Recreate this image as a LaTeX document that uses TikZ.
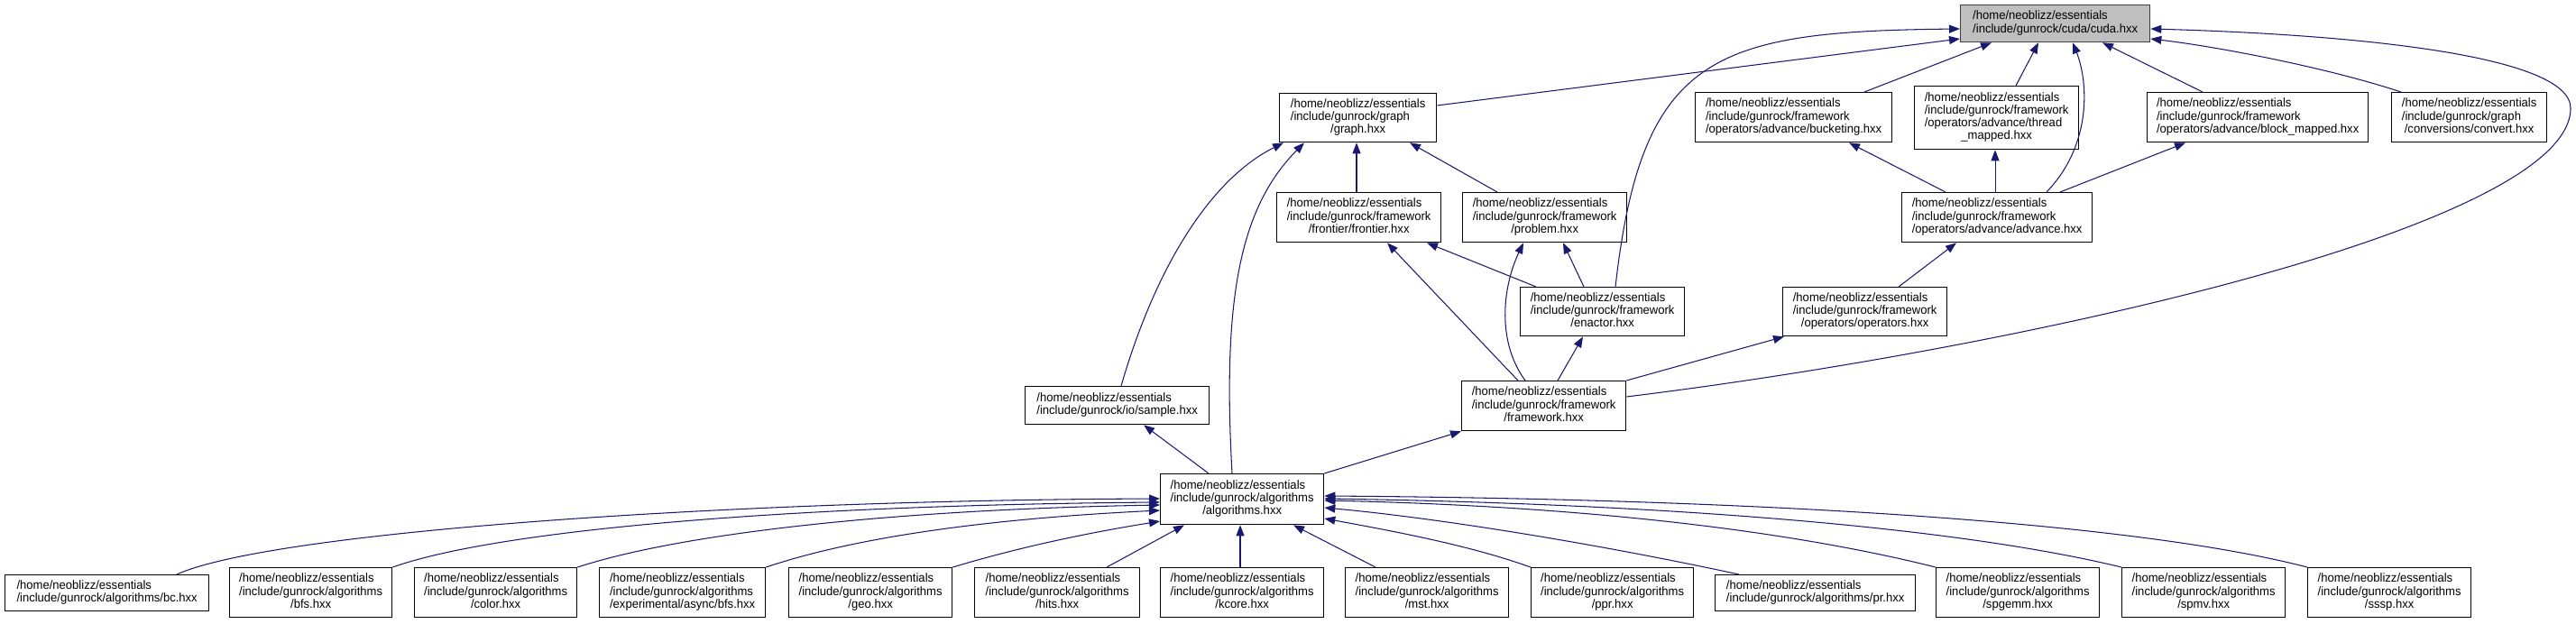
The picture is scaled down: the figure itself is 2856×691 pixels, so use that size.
\documentclass[tikz,border=0pt]{standalone}
\usepackage{fontspec}
\setmainfont[FakeStretch=0.96]{Liberation Sans}
\usetikzlibrary{arrows.meta}
\definecolor{edgeblue}{HTML}{191970}
\newcommand{\lbltwo}[2]{\begin{tabular}{@{}l@{}}#1\\\multicolumn{1}{@{}c@{}}{#2}\end{tabular}}
\newcommand{\lblthree}[3]{\begin{tabular}{@{}l@{}}#1\\#2\\\multicolumn{1}{@{}c@{}}{#3}\end{tabular}}
\newcommand{\lblfour}[4]{\begin{tabular}{@{}l@{}}#1\\#2\\#3\\\multicolumn{1}{@{}c@{}}{#4}\end{tabular}}
\newcommand{\hm}{/home/neoblizz/essentials}
\newcommand{\ifw}{/include/gunrock/framework}
\newcommand{\ial}{/include/gunrock/algorithms}
\begin{document}
\begin{tikzpicture}[x=1pt,y=-1pt,
  box/.style={draw=black, line width=1.3pt, fill=white, anchor=north west, inner sep=0pt,
    font=\fontsize{13.6}{14.3}\selectfont},
  rootbox/.style={box, fill=black!25, draw=black!75},
  edge/.style={draw=edgeblue, line width=1.05pt, -{Triangle[length=12pt,width=9pt]}}]
\useasboundingbox (0,0) rectangle (2856,691);
% top row
\node[rootbox, minimum width=210pt, minimum height=41pt] (cuda) at (2173,5) {\lbltwo{\hm}{/include/gunrock/cuda/cuda.hxx}};
\node[box, minimum width=174pt, minimum height=54pt] (graph) at (1418,103) {\lblthree{\hm}{/include/gunrock/graph}{/graph.hxx}};
\node[box, minimum width=218pt, minimum height=55pt] (bucket) at (1879,102) {\lblthree{\hm}{\ifw}{/operators/advance/bucketing.hxx}};
\node[box, minimum width=182pt, minimum height=70pt] (thread) at (2122,95) {\lblfour{\hm}{\ifw}{/operators/advance/thread}{\_mapped.hxx}};
\node[box, minimum width=245pt, minimum height=55pt] (block) at (2380,102) {\lblthree{\hm}{\ifw}{/operators/advance/block\_mapped.hxx}};
\node[box, minimum width=172pt, minimum height=55pt] (convert) at (2651,102) {\lblthree{\hm}{/include/gunrock/graph}{/conversions/convert.hxx}};
% middle rows
\node[box, minimum width=182pt, minimum height=55pt] (frontier) at (1415,213) {\lblthree{\hm}{\ifw}{/frontier/frontier.hxx}};
\node[box, minimum width=182pt, minimum height=55pt] (problem) at (1621,213) {\lblthree{\hm}{\ifw}{/problem.hxx}};
\node[box, minimum width=211pt, minimum height=55pt] (advance) at (2108,213) {\lblthree{\hm}{\ifw}{/operators/advance/advance.hxx}};
\node[box, minimum width=182pt, minimum height=54pt] (enactor) at (1685,318) {\lblthree{\hm}{\ifw}{/enactor.hxx}};
\node[box, minimum width=182pt, minimum height=54pt] (operators) at (1976,318) {\lblthree{\hm}{\ifw}{/operators/operators.hxx}};
\node[box, minimum width=182pt, minimum height=55pt] (framework) at (1620,422) {\lblthree{\hm}{\ifw}{/framework.hxx}};
\node[box, minimum width=204pt, minimum height=42pt] (sample) at (1136,428) {\lbltwo{\hm}{/include/gunrock/io/sample.hxx}};
\node[box, minimum width=181pt, minimum height=56pt] (algorithms) at (1286,525) {\lblthree{\hm}{\ial}{/algorithms.hxx}};
% bottom row
\node[box, minimum width=226pt, minimum height=40pt] (bc) at (5,637) {\lbltwo{\hm}{/include/gunrock/algorithms/bc.hxx}};
\node[box, minimum width=180pt, minimum height=55pt] (bfs) at (254,629) {\lblthree{\hm}{\ial}{/bfs.hxx}};
\node[box, minimum width=180pt, minimum height=55pt] (color) at (459,629) {\lblthree{\hm}{\ial}{/color.hxx}};
\node[box, minimum width=184pt, minimum height=55pt] (async) at (664,629) {\lblthree{\hm}{\ial}{/experimental/async/bfs.hxx}};
\node[box, minimum width=181pt, minimum height=55pt] (geo) at (874,629) {\lblthree{\hm}{\ial}{/geo.hxx}};
\node[box, minimum width=183pt, minimum height=55pt] (hits) at (1080,629) {\lblthree{\hm}{\ial}{/hits.hxx}};
\node[box, minimum width=181pt, minimum height=55pt] (kcore) at (1286,629) {\lblthree{\hm}{\ial}{/kcore.hxx}};
\node[box, minimum width=181pt, minimum height=55pt] (mst) at (1491,629) {\lblthree{\hm}{\ial}{/mst.hxx}};
\node[box, minimum width=180pt, minimum height=55pt] (ppr) at (1697,629) {\lblthree{\hm}{\ial}{/ppr.hxx}};
\node[box, minimum width=222pt, minimum height=40pt] (pr) at (1901,637) {\lbltwo{\hm}{/include/gunrock/algorithms/pr.hxx}};
\node[box, minimum width=181pt, minimum height=55pt] (spgemm) at (2146,629) {\lblthree{\hm}{\ial}{/spgemm.hxx}};
\node[box, minimum width=181pt, minimum height=55pt] (spmv) at (2352,629) {\lblthree{\hm}{\ial}{/spmv.hxx}};
\node[box, minimum width=181pt, minimum height=55pt] (sssp) at (2558,629) {\lblthree{\hm}{\ial}{/sssp.hxx}};
% edges into cuda
\draw[edge] ([yshift=-14pt]graph.north east) -- ([yshift=-38pt]cuda.north west);
\draw[edge] ([xshift=106pt]enactor.north west) .. controls (1820,60) and (1900,35) .. ([yshift=-27pt]cuda.north west);
\draw[edge] ([xshift=188pt]bucket.north west) -- ([xshift=35pt]cuda.south west);
\draw[edge] ([xshift=113pt]thread.north west) -- ([xshift=87pt]cuda.south west);
\draw[edge] ([xshift=161pt]advance.north west) .. controls (2320,160) and (2315,90) .. ([xshift=125pt]cuda.south west);
\draw[edge] ([xshift=62pt]block.north west) -- ([xshift=158pt]cuda.south west);
\draw[edge] ([xshift=11pt]convert.north west) .. controls (2580,75) and (2460,52) .. ([yshift=-38pt]cuda.north east);
\draw[edge] ([yshift=-18pt]framework.north east) .. controls (2250,385) and (2850,250) .. (2850,120)
   .. controls (2850,60) and (2600,38) .. ([yshift=-27pt]cuda.north east);
% edges into graph
\draw[edge] ([xshift=89pt]frontier.north west) -- ([xshift=86pt]graph.south west);
\draw[edge] ([xshift=39pt]problem.north west) -- ([xshift=145pt]graph.south west);
\draw[edge] ([xshift=107pt]sample.north west) .. controls (1280,300) and (1340,200) .. ([xshift=5pt]graph.south west);
\draw[edge] ([xshift=80pt]algorithms.north west) .. controls (1355,330) and (1375,230) .. ([xshift=28pt]graph.south west);
% frontier / problem / enactor
\draw[edge] ([xshift=18pt]enactor.north west) -- ([xshift=167pt]frontier.south west);
\draw[edge] ([xshift=63pt]framework.north west) -- ([xshift=123pt]frontier.south west);
\draw[edge] ([xshift=71pt]enactor.north west) -- ([xshift=112pt]problem.south west);
\draw[edge] ([xshift=71pt]framework.north west) .. controls (1660,380) and (1665,320) .. ([xshift=68pt]problem.south west);
\draw[edge] ([xshift=107pt]framework.north west) -- ([xshift=70pt]enactor.south west);
% advance
\draw[edge] ([xshift=49pt]advance.north west) -- ([xshift=171pt]bucket.south west);
\draw[edge] ([xshift=104pt]advance.north west) -- ([xshift=90pt]thread.south west);
\draw[edge] ([xshift=176pt]advance.north west) -- ([xshift=43pt]block.south west);
\draw[edge] ([xshift=129pt]operators.north west) -- ([xshift=61pt]advance.south west);
\draw[edge] (framework.north east) -- ([xshift=2pt]operators.south west);
% algorithms
\draw[edge] (algorithms.north east) -- (framework.south west);
\draw[edge] ([xshift=54pt]algorithms.north west) -- ([xshift=132pt]sample.south west);
\draw[edge] ([xshift=191pt]bc.north west) .. controls (300,590) and (800,555) .. ([yshift=-28pt]algorithms.north west);
\draw[edge] (bfs.north east) .. controls (560,585) and (900,560) .. ([yshift=-32pt]algorithms.north west);
\draw[edge] (color.north east) .. controls (760,590) and (1000,565) .. ([yshift=-35pt]algorithms.north west);
\draw[edge] (async.north east) .. controls (950,595) and (1100,575) .. ([yshift=-41pt]algorithms.north west);
\draw[edge] (geo.north east) .. controls (1130,607) and (1200,592) .. ([yshift=-53pt]algorithms.north west);
\draw[edge] ([xshift=147pt]hits.north west) -- ([xshift=27pt]algorithms.south west);
\draw[edge] ([xshift=89pt]kcore.north west) -- ([xshift=89pt]algorithms.south west);
\draw[edge] ([xshift=34pt]mst.north west) -- ([xshift=148pt]algorithms.south west);
\draw[edge] (ppr.north west) .. controls (1630,605) and (1550,590) .. ([yshift=-50pt]algorithms.north east);
\draw[edge] ([xshift=27pt]pr.north west) .. controls (1780,605) and (1600,575) .. ([yshift=-38pt]algorithms.north east);
\draw[edge] (spgemm.north west) .. controls (1950,580) and (1700,560) .. ([yshift=-30pt]algorithms.north east);
\draw[edge] (spmv.north west) .. controls (2150,580) and (1800,558) .. ([yshift=-28pt]algorithms.north east);
\draw[edge] (sssp.north west) .. controls (2350,575) and (1900,553) .. ([yshift=-25pt]algorithms.north east);
\end{tikzpicture}
\end{document}
